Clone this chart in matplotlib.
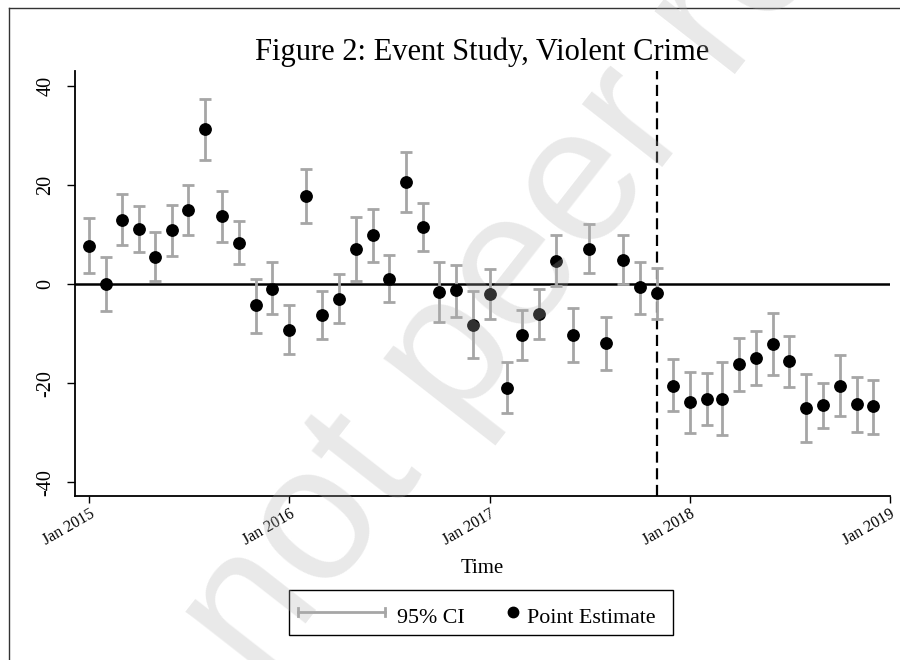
# event study plot, violent crime
import matplotlib
matplotlib.use("Agg")
import matplotlib.pyplot as plt
from matplotlib.lines import Line2D
from matplotlib.patches import Rectangle
import pandas as pd

plt.rcParams['font.family'] = ['Liberation Serif', 'DejaVu Serif']

# monthly point estimates and 95% CI, Jan 2015 .. Dec 2018
months = pd.date_range('2015-01-01', periods=48, freq='MS')
estimate = [7.7, 0.0, 13.0, 11.1, 5.4, 10.8, 14.9, 31.2, 13.7, 8.3, -4.2, -1.0,
            -9.2, 17.8, -6.3, -3.0, 7.1, 9.8, 1.1, 20.6, 11.6, -1.6, -1.3, -8.3,
            -2.0, -20.9, -10.2, -6.1, 4.6, -10.2, 7.1, -11.9, 4.8, -0.7, -1.9, -20.5,
            -23.8, -23.3, -23.2, -16.2, -14.9, -12.1, -15.5, -25.0, -24.4, -20.5, -24.3, -24.6]
ci_high = [13.4, 5.4, 18.1, 15.8, 10.4, 16.0, 20.0, 37.4, 18.8, 12.7, 1.0, 4.4,
           -4.2, 23.3, -1.5, 2.0, 13.5, 15.1, 5.9, 26.6, 16.4, 4.4, 3.8, -1.5,
           3.0, -15.8, -5.2, -1.1, 9.8, -4.8, 12.1, -6.7, 9.8, 4.5, 3.2, -15.2,
           -17.8, -18.0, -15.8, -10.9, -9.5, -5.8, -10.4, -18.2, -19.9, -14.3, -18.8, -19.3]
ci_low = [2.2, -5.4, 7.9, 6.5, 0.6, 5.7, 9.8, 25.1, 8.5, 4.0, -9.8, -6.1,
          -14.1, 12.3, -11.2, -7.8, 0.6, 4.4, -3.7, 14.5, 6.7, -7.7, -6.7, -14.9,
          -7.1, -26.1, -15.4, -11.2, -0.4, -15.8, 2.2, -17.3, -0.1, -6.1, -7.1, -25.7,
          -30.0, -28.5, -30.5, -21.7, -20.3, -18.4, -20.7, -31.8, -29.0, -26.6, -29.9, -30.2]
event_month = pd.Timestamp('2017-11-01')

tick_dates = pd.to_datetime(['2015-01-01', '2016-01-01', '2017-01-01', '2018-01-01', '2019-01-01'])
tick_labels = ['Jan 2015', 'Jan 2016', 'Jan 2017', 'Jan 2018', 'Jan 2019']
y_ticks = [-40, -20, 0, 20, 40]

W, H = 900, 660
fig = plt.figure(figsize=(9, 6.6), dpi=100)
ax = fig.add_axes([75 / W, 164 / H, 815 / W, 425 / H])

lo_err = [e - l for e, l in zip(estimate, ci_low)]
hi_err = [h - e for e, h in zip(estimate, ci_high)]
ax.errorbar(months, estimate, yerr=[lo_err, hi_err], fmt='none', ecolor='#a6a6a6',
            elinewidth=2, capsize=4, capthick=2, zorder=2)
ax.plot(months, estimate, 'o', color='black', ms=8.2, zorder=3)

ax.axhline(0, color='black', lw=1.8, zorder=1)
ax.axvline(event_month, color='black', lw=1.6, dashes=(5, 2.5), zorder=1)

ax.set_xlim(pd.Timestamp('2014-12-06'), pd.Timestamp('2019-01-01'))
ax.set_ylim(-42.8, 43.0)

ax.set_xticks(tick_dates)
ax.set_xticklabels(tick_labels, rotation=30, ha='right', va='top', rotation_mode='anchor')
ax.set_yticks(y_ticks)
ax.set_yticklabels([str(v) for v in y_ticks], rotation=90, va='center')
ax.tick_params(axis='x', length=5, width=1, pad=2, labelsize=11.5)
ax.tick_params(axis='y', length=6, width=1, pad=8, labelsize=14.5)

for s in ['top', 'right']:
    ax.spines[s].set_visible(False)
for s in ['left', 'bottom']:
    ax.spines[s].set_linewidth(1.3)

ax.set_title('Figure 2: Event Study, Violent Crime', fontsize=22, y=1.026, va='baseline', pad=0)
ax.set_xlabel('Time', fontsize=15)
ax.xaxis.label.set_va('baseline')
ax.xaxis.set_label_coords(0.5, (496 - 573) / 425)

# legend box drawn by hand, stata style
def fx(x):
    return x / W

def fy(y):
    return 1 - y / H

fig.add_artist(Rectangle((fx(289), fy(635)), (673 - 289) / W, 45 / H, transform=fig.transFigure,
                         facecolor='white', edgecolor='black', lw=1))
ly = fy(612)
fig.add_artist(Line2D([fx(298), fx(385)], [ly, ly], color='#a6a6a6', lw=2))
for cx in [298, 385]:
    fig.add_artist(Line2D([fx(cx), fx(cx)], [fy(608), fy(616)], color='#a6a6a6', lw=2))
fig.text(fx(397), fy(623), '95% CI', fontsize=15.8, va='baseline', ha='left')
fig.add_artist(Line2D([fx(513)], [ly], marker='o', ms=7.5, color='black', lw=0))
fig.text(fx(527), fy(623), 'Point Estimate', fontsize=15.8, va='baseline', ha='left')

# outer graph border (cropped on right and bottom)
fig.add_artist(Line2D([fx(9), 1.0], [fy(8), fy(8)], color='#333333', lw=1))
fig.add_artist(Line2D([fx(9), fx(9)], [0.0, fy(8)], color='#333333', lw=1))

# watermark
fig.text(fx(258), fy(684), 'not peer reviewed', rotation=52, rotation_mode='anchor',
         ha='left', va='baseline', fontsize=139, color='#b0b0b0', alpha=0.28,
         family='Liberation Sans', zorder=10)

fig.savefig('out.png', dpi=100)
